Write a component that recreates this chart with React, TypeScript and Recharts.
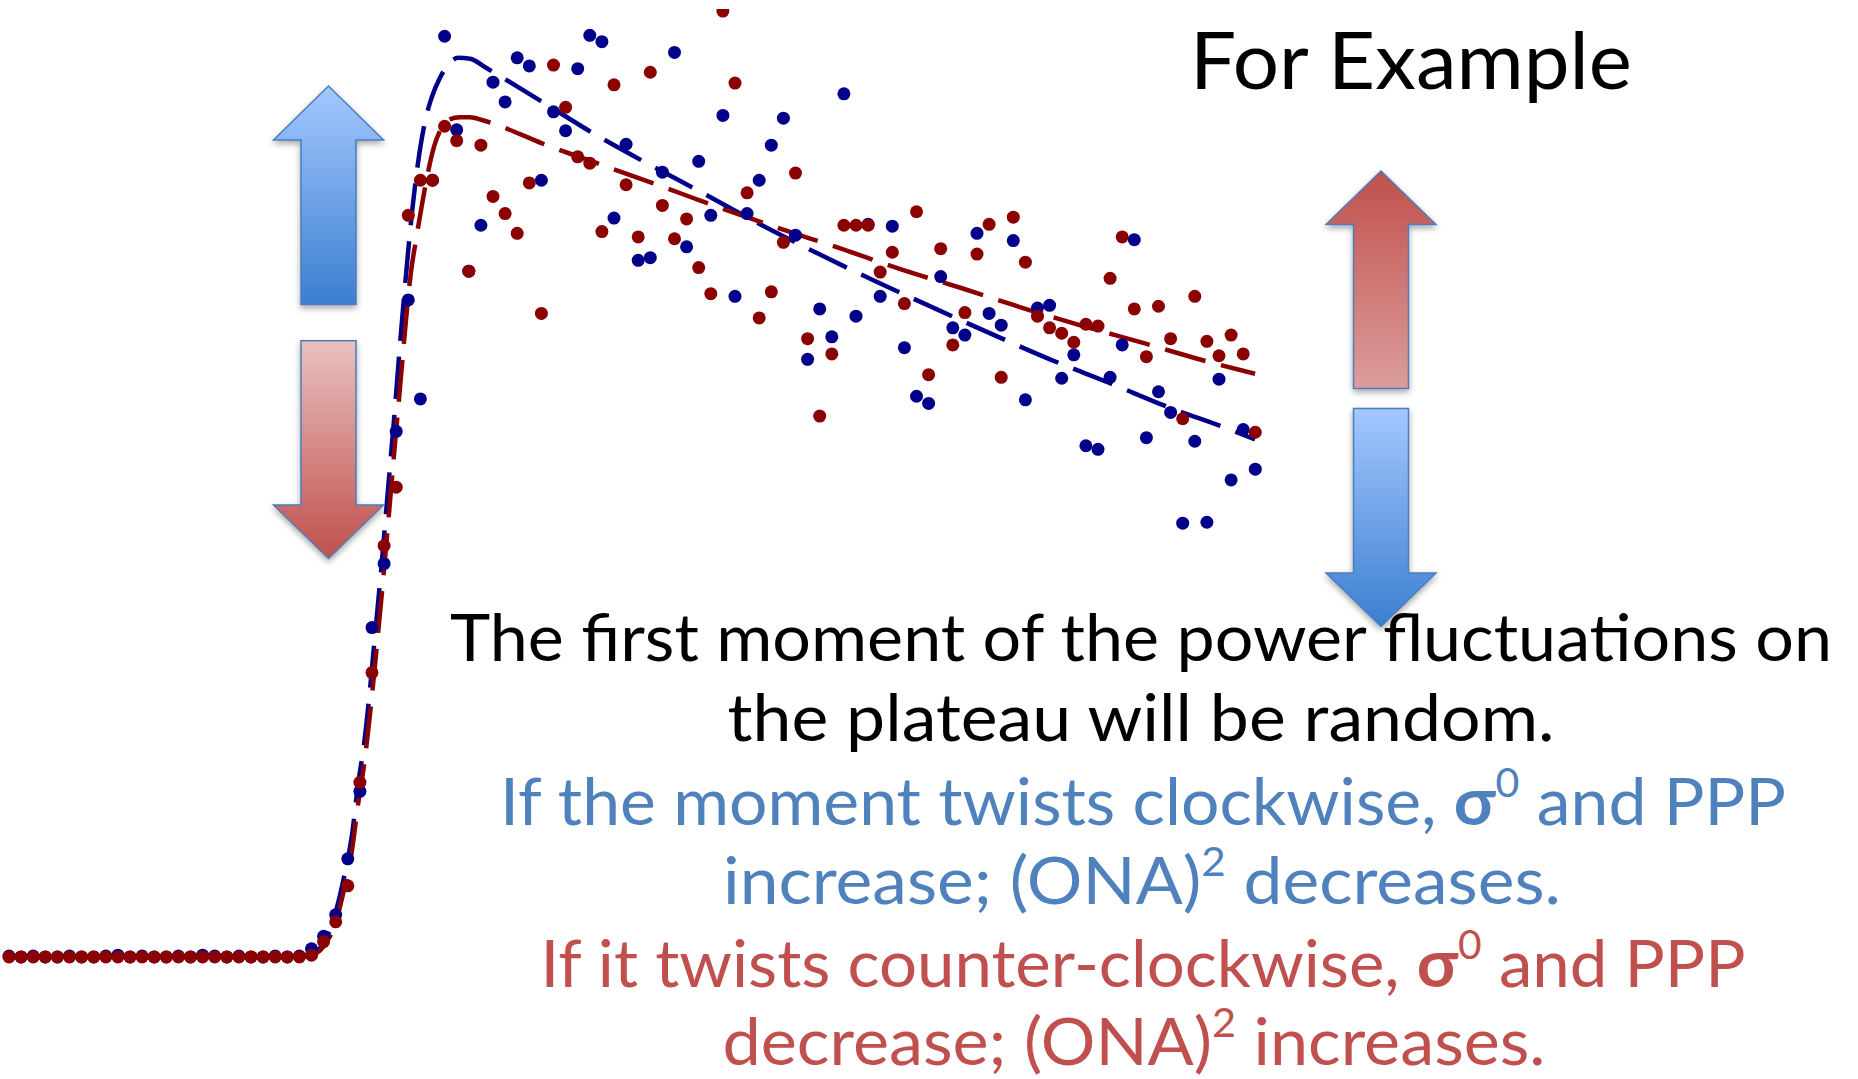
import { ComposedChart, Scatter, Line, XAxis, YAxis } from 'recharts'

// measured signal, one value per sample (sample index = position in array)
const blueValues = [
  0.1, 0, 0.1, 0, 0, 0.1, 0, 0, 0.1, 0.2, 0, 0.1, 0, 0, 0.1, 0, 0.2, 0.1, 0, 0.1, 0, 0, 0.1, 0, 0.1,
  0.9, 2.3, 4.7, 10.9, 18.4, 36.6, 43.7, 58.4, 73.0, 62.0, 86.3, 102.3, 91.9, 76.2, 81.3,
  97.2, 95.0, 99.9, 99.0, 86.3, 93.9, 91.8, 98.7, 102.4, 101.7, 82.1, 90.3, 77.4, 77.7, 87.2,
  100.5, 78.9, 88.4, 82.4, 93.5, 73.4, 82.6, 86.3, 90.2, 93.2, 80.2, 66.4, 72.0, 68.9, 95.9,
  71.2, 81.4, 73.4, 81.2, 67.7, 62.3, 61.5, 75.6, 69.9, 69.1, 80.4, 71.5, 70.2, 79.6, 61.9,
  72.1, 72.4, 64.3, 66.9, 56.8, 56.4, 64.4, 68.0, 79.7, 57.7, 62.8, 60.5, 48.2, 57.3, 48.3,
  64.2, 53.0, 58.6, 54.2,
]

const redValues = [
  0, 0, 0, 0, 0, 0, 0, 0, 0, 0, 0, 0, 0, 0, 0, 0, 0, 0, 0, 0, 0, 0, 0, 0, 0,
  0.2, 1.7, 3.9, 7.9, 19.4, 31.6, 45.7, 52.2, 82.4, 86.3, 86.3, 92.3, 90.7, 76.2, 90.2,
  84.5, 82.6, 80.4, 86.0, 71.5, 99.1, 94.4, 88.9, 88.2, 80.6, 96.9, 85.8, 80.0, 98.3, 83.5,
  79.8, 82.0, 76.6, 73.7, 105.1, 97.1, 84.9, 71.0, 73.9, 79.4, 87.1, 68.7, 60.1, 67.0, 81.3,
  81.3, 81.3, 76.1, 78.3, 72.6, 82.8, 64.7, 78.7, 68.0, 71.6, 78.1, 81.4, 64.4, 82.2, 77.2,
  71.2, 69.9, 69.3, 68.3, 70.3, 70.1, 75.4, 80.0, 72.0, 66.7, 72.3, 68.7, 59.8, 73.4, 68.4,
  66.8, 69.1, 67.0, 58.3,
]

// fitted model curves
const blueFitX = [0, 24.05, 25.04, 25.95, 26.94, 27.77, 28.35, 28.84, 29.34, 29.83, 30.33, 30.83, 31.32, 31.82, 32.31, 32.81, 33.31, 33.8, 34.38, 34.96, 35.62, 36.28, 37.11, 38.1, 39.42, 40.91, 43.97, 48.43, 52.98, 57.6, 62.23, 66.94, 71.74, 76.45, 81.24, 86.03, 90.91, 95.79, 100.74, 102.98]
const blueFitY = [0, 0.1, 0.4, 1.4, 4.7, 9.4, 13.6, 19.1, 23.6, 29.7, 36.9, 44.1, 51.9, 59.7, 68.0, 75.8, 82.8, 88.2, 92.8, 95.6, 97.7, 99.1, 99.9, 99.8, 98.8, 97.6, 95.1, 91.4, 88.0, 84.7, 81.3, 78.1, 75.0, 72.1, 69.2, 66.4, 63.8, 61.1, 58.7, 57.5]

const redFitX = [0, 24.05, 25.04, 25.95, 26.94, 27.77, 28.35, 28.84, 29.34, 29.83, 30.33, 30.83, 31.32, 31.82, 32.31, 32.81, 33.22, 33.64, 34.13, 34.63, 35.12, 35.7, 36.28, 37.27, 38.1, 39.09, 40.83, 44.05, 49.01, 53.97, 58.84, 63.8, 68.76, 73.72, 78.76, 83.8, 88.76, 93.8, 98.93, 102.98]
const redFitY = [0, 0, 0.2, 1.1, 3.6, 8.0, 11.9, 16.9, 21.3, 26.9, 33.6, 40.6, 48.0, 55.8, 63.2, 70.8, 76.1, 79.7, 83.6, 87.2, 90.0, 92.0, 93.0, 93.3, 93.3, 93.0, 92.2, 90.4, 88.0, 85.6, 83.2, 80.9, 78.7, 76.4, 74.3, 72.1, 70.1, 68.2, 66.2, 64.8]

const textLines = [
  'The first moment of the power fluctuations on',
  'the plateau will be random.',
]

const BLUE_DOT = '#00008b'
const RED_DOT = '#8b0000'
const BLUE_TEXT = '#4f81bd'
const RED_TEXT = '#c0504d'
const FONT = "Lato, 'Open Sans', sans-serif"

const blueData = blueValues.map((y, i) => ({ x: i, y }))
const redData = redValues.map((y, i) => ({ x: i, y }))
const blueFit = blueFitX.map((x, i) => ({ x, y: blueFitY[i] }))
const redFit = redFitX.map((x, i) => ({ x, y: redFitY[i] }))

const dot = (color: string) => (props: any) => (
  <circle cx={props.cx} cy={props.cy} r={6.5} fill={color} />
)

function arrowPath(x: number, tip: number, head: number, end: number) {
  const hh = 55
  const sh = 27.5
  return `M${x},${tip} L${x + hh},${head} L${x + sh},${head} L${x + sh},${end} L${x - sh},${end} L${x - sh},${head} L${x - hh},${head} Z`
}

function Overlay() {
  const sup = { fontSize: 40 }
  return (
    <svg width={1858} height={1079} style={{ position: 'absolute', left: 0, top: 0, pointerEvents: 'none' }}>
      <defs>
        <linearGradient id="blueG" x1="0" y1="0" x2="0" y2="1">
          <stop offset="0" stopColor="#a3c8ff" />
          <stop offset="1" stopColor="#3b7fd0" />
        </linearGradient>
        <linearGradient id="redDown" x1="0" y1="0" x2="0" y2="1">
          <stop offset="0" stopColor="#e9c1bf" />
          <stop offset="1" stopColor="#c0504d" />
        </linearGradient>
        <linearGradient id="redUp" x1="0" y1="0" x2="0" y2="1">
          <stop offset="0" stopColor="#c0504d" />
          <stop offset="1" stopColor="#dc9d9b" />
        </linearGradient>
        <filter id="shadow" x="-30%" y="-10%" width="160%" height="130%">
          <feDropShadow dx="0" dy="3" stdDeviation="3" floodColor="#000" floodOpacity="0.35" />
        </filter>
      </defs>

      <text x={1411} y={89} textAnchor="middle" fontFamily={FONT} fontSize={80} fill="#000"
        textLength={442} lengthAdjust="spacingAndGlyphs">For Example</text>

      <g fontFamily={FONT} fontSize={66} textAnchor="middle">
        <text x={1141} y={661} fill="#000" textLength={1382} lengthAdjust="spacingAndGlyphs">{textLines[0]}</text>
        <text x={1141} y={741} fill="#000" textLength={827} lengthAdjust="spacingAndGlyphs">{textLines[1]}</text>
        <text x={1143} y={825} fill={BLUE_TEXT} textLength={1286} lengthAdjust="spacingAndGlyphs">
          If the moment twists clockwise, <tspan fontWeight="bold">σ</tspan>
          <tspan {...sup} dy={-28}>0</tspan>
          <tspan dy={28}> and PPP</tspan>
        </text>
        <text x={1142} y={904} fill={BLUE_TEXT} textLength={838} lengthAdjust="spacingAndGlyphs">
          increase; (ONA)<tspan {...sup} dy={-28}>2</tspan>
          <tspan dy={28}> decreases.</tspan>
        </text>
        <text x={1143} y={987} fill={RED_TEXT} textLength={1205} lengthAdjust="spacingAndGlyphs">
          If it twists counter-clockwise, <tspan fontWeight="bold">σ</tspan>
          <tspan {...sup} dy={-28}>0</tspan>
          <tspan dy={28}> and PPP</tspan>
        </text>
        <text x={1134} y={1065} fill={RED_TEXT} textLength={823} lengthAdjust="spacingAndGlyphs">
          decrease; (ONA)<tspan {...sup} dy={-28}>2</tspan>
          <tspan dy={28}> increases.</tspan>
        </text>
      </g>

      <g stroke="#4a7ebb" strokeWidth={1.5} filter="url(#shadow)">
        <path d={arrowPath(328.5, 86, 140, 304.5)} fill="url(#blueG)" />
        <path d={arrowPath(328.5, 558.5, 505, 340.7)} fill="url(#redDown)" />
        <path d={arrowPath(1381, 171, 224.5, 388.5)} fill="url(#redUp)" />
        <path d={arrowPath(1381, 626.5, 573, 408.5)} fill="url(#blueG)" />
      </g>
    </svg>
  )
}

export default function App() {
  return (
    <div style={{ position: 'absolute', left: 0, top: 0, width: 1858, height: 1079, background: '#fff' }}>
      <ComposedChart width={1858} height={1079} margin={{ top: 9, right: 0, bottom: 0, left: 0 }}>
        <XAxis type="number" dataKey="x" domain={[-0.744, 152.81]} hide allowDataOverflow />
        <YAxis type="number" dataKey="y" domain={[-13.56, 105.33]} hide allowDataOverflow />
        <Scatter data={blueData} dataKey="y" shape={dot(BLUE_DOT)} isAnimationActive={false} />
        <Line data={blueFit} dataKey="y" type="monotone" stroke={BLUE_DOT} strokeWidth={4.5}
          strokeDasharray="42 16" dot={false} activeDot={false} isAnimationActive={false} />
        <Scatter data={redData} dataKey="y" shape={dot(RED_DOT)} isAnimationActive={false} />
        <Line data={redFit} dataKey="y" type="monotone" stroke={RED_DOT} strokeWidth={4.5}
          strokeDasharray="42 16" dot={false} activeDot={false} isAnimationActive={false} />
      </ComposedChart>
      <Overlay />
    </div>
  )
}
